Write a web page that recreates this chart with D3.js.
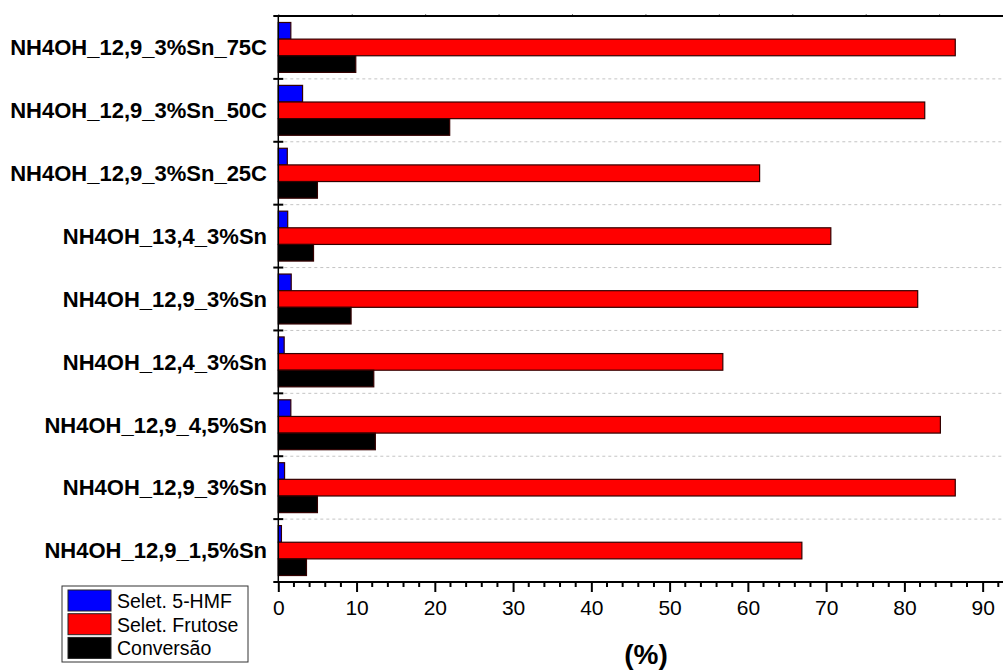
<!DOCTYPE html>
<html lang="pt">
<head>
<meta charset="UTF-8">
<title>Seletividade e conversão</title>
<script src="https://cdn.jsdelivr.net/npm/d3@7"></script>
<style>
  body { margin: 0; background: #fff; }
  text { font-family: Arial, "Liberation Sans", sans-serif; }
</style>
</head>
<body>
<script>

    // categories, top to bottom
    var categories = ["NH4OH_12,9_3%Sn_75C", "NH4OH_12,9_3%Sn_50C", "NH4OH_12,9_3%Sn_25C",
        "NH4OH_13,4_3%Sn", "NH4OH_12,9_3%Sn", "NH4OH_12,4_3%Sn",
        "NH4OH_12,9_4,5%Sn", "NH4OH_12,9_3%Sn", "NH4OH_12,9_1,5%Sn"];

    var seletHMF     = [1.6, 3.1, 1.15, 1.2, 1.65, 0.75, 1.6, 0.8, 0.4];
    var seletFrutose = [86.5, 82.6, 61.5, 70.6, 81.7, 56.8, 84.6, 86.5, 66.9];
    var conversao    = [9.9, 21.9, 5.0, 4.5, 9.3, 12.2, 12.4, 5.0, 3.6];

    var seriesNames = ["Selet. 5-HMF", "Selet. Frutose", "Conversão"];
    var seriesColors = ["#0000ff", "#ff0000", "#000000"];
    var seriesValues = [seletHMF, seletFrutose, conversao];

    var xTicks = [0, 10, 20, 30, 40, 50, 60, 70, 80, 90];

    var W = 1003, H = 671;
    var plotLeft = 278.3, plotRight = 1003, plotTop = 16, plotBottom = 582;

    var svg = d3.select("body").append("svg")
            .attr("width", W)
            .attr("height", H);

    var x = d3.scaleLinear()
            .domain([0, 92.6])
            .range([plotLeft, plotRight]);

    // top axis in the original is scaled a bit differently
    var xTop = d3.scaleLinear()
            .domain([0, 98.7])
            .range([plotLeft, plotRight]);

    var y = d3.scaleBand()
            .domain(d3.range(categories.length))
            .range([plotTop, plotBottom])
            .padding(0);

    var ySub = d3.scaleBand()
            .domain(d3.range(3))
            .range([0, y.bandwidth()])
            .paddingInner(0)
            .paddingOuter(0.39);

    // dotted grid lines at category borders
    svg.append("g")
            .selectAll("line")
            .data(d3.range(1, categories.length))
            .enter()
            .append("line")
            .attr("x1", plotLeft)
            .attr("x2", plotRight)
            .attr("y1", function (d) { return y(d); })
            .attr("y2", function (d) { return y(d); })
            .attr("stroke", "#c4c4c4")
            .attr("stroke-width", 1)
            .attr("stroke-dasharray", "3,3");

    // bars
    var rows = svg.append("g")
            .selectAll("g")
            .data(categories)
            .enter()
            .append("g")
            .attr("transform", function (d, i) {
                return "translate(0," + y(i) + ")";
            });

    rows.selectAll("rect")
            .data(function (d, i) {
                return seriesValues.map(function (vals, s) {
                    return {s: s, v: vals[i]};
                });
            })
            .enter()
            .append("rect")
            .attr("x", x(0))
            .attr("y", function (d) { return ySub(d.s); })
            .attr("width", function (d) { return x(d.v) - x(0); })
            .attr("height", ySub.bandwidth())
            .attr("fill", function (d) { return seriesColors[d.s]; })
            .attr("stroke", "#300")
            .attr("stroke-width", 1.2);

    // category labels
    rows.append("text")
            .attr("x", 267)
            .attr("y", y.bandwidth() / 2 + 7.8)
            .attr("text-anchor", "end")
            .attr("font-size", "22px")
            .attr("font-weight", "bold")
            .attr("fill", "#000")
            .text(function (d) { return d; });

    // bottom axis
    var xAxis = d3.axisBottom(x)
            .tickValues(xTicks)
            .tickSize(10)
            .tickPadding(8)
            .tickFormat(d3.format("d"));

    var xAxisGroup = svg.append("g")
            .attr("transform", "translate(0," + plotBottom + ")")
            .call(xAxis);

    xAxisGroup.select(".domain").remove();
    xAxisGroup.selectAll(".tick line").attr("stroke-width", 2).attr("stroke", "#000");
    xAxisGroup.selectAll(".tick text")
            .attr("font-size", "21px")
            .attr("font-family", "Arial, 'Liberation Sans', sans-serif")
            .attr("fill", "#000");

    // minor ticks every 2
    svg.append("g")
            .selectAll("line")
            .data(d3.range(0, 93, 2).filter(function (d) { return d % 10 != 0; }))
            .enter()
            .append("line")
            .attr("x1", function (d) { return x(d); })
            .attr("x2", function (d) { return x(d); })
            .attr("y1", plotBottom)
            .attr("y2", plotBottom + 5)
            .attr("stroke", "#000")
            .attr("stroke-width", 2);

    svg.append("line")
            .attr("x1", plotLeft - 1)
            .attr("x2", plotRight)
            .attr("y1", plotBottom)
            .attr("y2", plotBottom)
            .attr("stroke", "#000")
            .attr("stroke-width", 2);

    // top axis
    var topAxis = d3.axisTop(xTop)
            .tickValues(xTicks)
            .tickSize(2)
            .tickFormat("");

    var topGroup = svg.append("g")
            .attr("transform", "translate(0," + plotTop + ")")
            .call(topAxis);
    topGroup.select(".domain").remove();
    topGroup.selectAll(".tick line").attr("stroke", "#777");

    svg.append("line")
            .attr("x1", plotLeft - 1)
            .attr("x2", plotRight)
            .attr("y1", plotTop)
            .attr("y2", plotTop)
            .attr("stroke", "#000")
            .attr("stroke-width", 2);

    // left axis with crossing ticks at category borders
    svg.append("line")
            .attr("x1", plotLeft)
            .attr("x2", plotLeft)
            .attr("y1", plotTop)
            .attr("y2", plotBottom)
            .attr("stroke", "#000")
            .attr("stroke-width", 1.5);

    svg.append("g")
            .selectAll("line")
            .data(d3.range(0, categories.length + 1))
            .enter()
            .append("line")
            .attr("x1", plotLeft - 5)
            .attr("x2", plotLeft + 5)
            .attr("y1", function (d) { return d < categories.length ? y(d) : plotBottom; })
            .attr("y2", function (d) { return d < categories.length ? y(d) : plotBottom; })
            .attr("stroke", "#000")
            .attr("stroke-width", 2);

    // axis title
    svg.append("text")
            .attr("x", 646)
            .attr("y", 664)
            .attr("text-anchor", "middle")
            .attr("font-size", "28px")
            .attr("font-weight", "bold")
            .text("(%)");

    // legend
    var legend = svg.append("g");

    legend.append("rect")
            .attr("x", 62)
            .attr("y", 586)
            .attr("width", 186)
            .attr("height", 76)
            .attr("fill", "#fff")
            .attr("stroke", "#333")
            .attr("stroke-width", 1);

    var legendItems = legend.selectAll("g")
            .data(seriesNames)
            .enter()
            .append("g")
            .attr("transform", function (d, i) {
                return "translate(68," + (590 + i * 23.7) + ")";
            });

    legendItems.append("rect")
            .attr("width", 43)
            .attr("height", 21)
            .attr("fill", function (d, i) { return seriesColors[i]; })
            .attr("stroke", "#222")
            .attr("stroke-width", 1);

    legendItems.append("text")
            .attr("x", 49)
            .attr("y", 18)
            .attr("font-size", "19.5px")
            .attr("fill", "#000")
            .text(function (d) { return d; });

</script>
</body>
</html>
